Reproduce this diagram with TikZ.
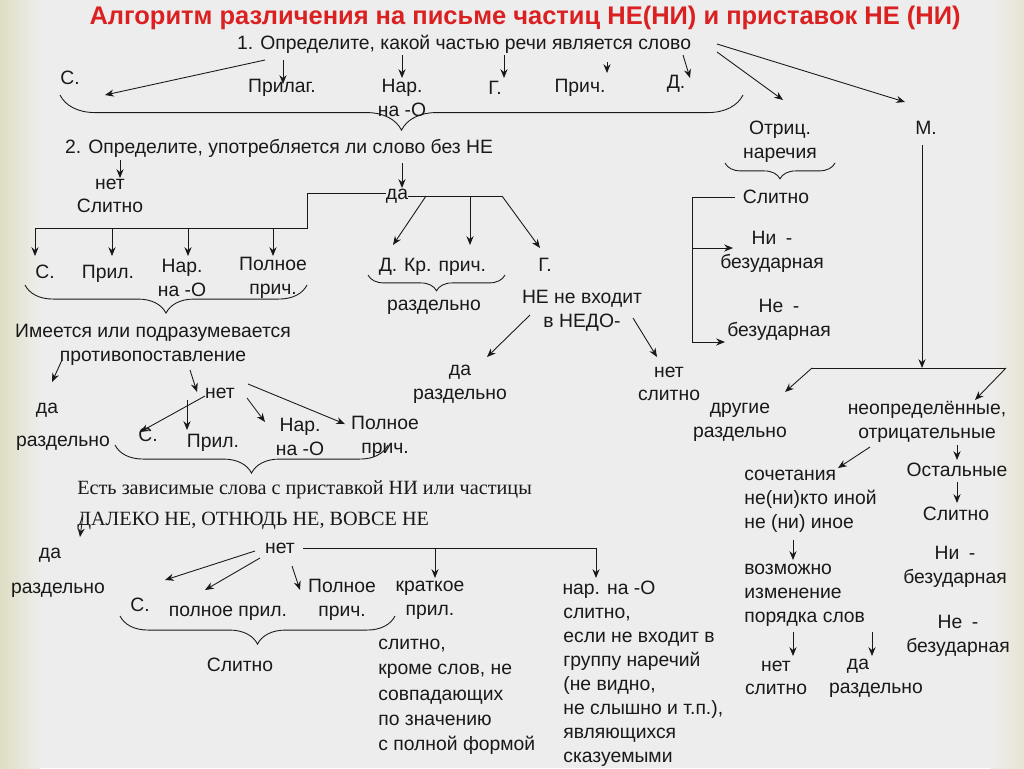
\documentclass[tikz,border=0pt]{standalone}
\usepackage{fontspec}
\setmainfont{Liberation Sans}
\newfontfamily\serifcyr{Liberation Serif}
\usetikzlibrary{arrows.meta,decorations.pathreplacing}
\definecolor{bgcol}{RGB}{238,237,237}
\definecolor{titlered}{RGB}{218,32,32}
\definecolor{txt}{RGB}{25,25,25}

\begin{document}
\begin{tikzpicture}[
    x=0.02cm, y=-0.02cm,
    >={Stealth[length=5pt,width=4pt]},
    lbl/.style={inner sep=0pt, text=txt, font=\fontsize{11}{13.5}\selectfont, align=center},
    lbll/.style={lbl, align=left, anchor=north west},
    arr/.style={->, draw=txt, line width=0.5pt},
    ln/.style={draw=txt, line width=0.5pt},
    brc/.style={draw=txt, line width=0.5pt, decorate,
        decoration={brace, mirror, amplitude=#1}},
    brc/.default=16pt
]
\useasboundingbox (0,0) rectangle (1024,768);
\fill[bgcol] (0,0) rectangle (1024,768);
\shade[left color={rgb,255:red,222;green,222;blue,196}, right color=bgcol] (0,0) rectangle (40,768);
\shade[left color=bgcol, right color={rgb,255:red,232;green,228;blue,212}] (990,0) rectangle (1024,768);

% title and step 1
\node[inner sep=0pt, text=titlered, font=\fontsize{14.5}{16}\selectfont\bfseries] (title) at (525,18)
    {Алгоритм различения на письме частиц НЕ(НИ) и приставок НЕ (НИ)};
\node[lbl] (q1) at (464,44) {1. Определите, какой частью речи является слово};
\node[lbl] (s1) at (70,78) {С.};
\node[lbl] (adj1) at (282,88) {Прилаг.};
\node[lbl] (adv1) at (402,98) {Нар.\\на -О};
\node[lbl] (g1) at (495,88) {Г.};
\node[lbl] (pr1) at (580,88) {Прич.};
\node[lbl] (d1) at (676,84) {Д.};
\node[lbl] (neg) at (780,142) {Отриц.\\наречия};
\node[lbl] (m) at (926,128) {М.};

\draw[arr] (265,60) -- (105,95);
\draw[arr] (283,60) -- (283,84);
\draw[arr] (402,55) -- (402,78);
\draw[arr] (504,55) -- (504,78);
\draw[arr] (607,62) -- (607,73);
\draw[arr] (683,55) -- (690,78);
\draw[arr] (717,52) -- (783,100);
\draw[arr] (717,44) -- (905,102);
\draw[brc=20pt] (60,95) -- (743,95);

% step 2
\node[lbl] (q2) at (279,148) {2. Определите, употребляется ли слово без НЕ};
\draw[arr] (120,160) -- (120,178);
\node[lbl] (no2) at (110,196) {нет\\Слитно};
\draw[arr] (402,163) -- (402,188);
\node[lbl] (yes2) at (397,196) {да};

\draw[ln] (yes2.west) ++(0,-3) -- (307,193) -- (307,228) -- (35,228);
\foreach \x in {35,112,188,273} \draw[arr] (\x,228) -- (\x,256);
\node[lbl] (s2) at (45,272) {С.};
\node[lbl] (adj2) at (108,274) {Прил.};
\node[lbl] (adv2) at (182,278) {Нар.\\на -О};
\node[lbl] (pp2) at (273,278) {Полное\\прич.};
\draw[brc] (25,285) -- (307,285);

\draw[ln] (yes2.east) -- (502,196);
\draw[arr] (426,196) -- (393,245);
\draw[arr] (470,196) -- (470,245);
\draw[arr] (502,196) -- (540,248);
\node[lbl] (d2) at (388,267) {Д.};
\node[lbl] (kp2) at (445,267) {Кр. прич.};
\node[lbl] (g2) at (545,265) {Г.};
\draw[brc=9pt] (368,275) -- (505,275);
\node[lbl] (sep2) at (434,307) {раздельно};

\node[lbl] (nedo) at (582,311) {НЕ не входит\\в НЕДО-};
\draw[arr] (530,315) -- (487,357);
\draw[arr] (633,318) -- (657,357);
\node[lbl] (nedoyes) at (460,384) {да\\раздельно};
\node[lbl] (nedono) at (669,384) {нет\\слитно};

% opposition
\node[lbl] (opp) at (153,345) {Имеется или подразумевается\\противопоставление};
\draw[arr] (62,360) -- (52,382);
\draw[arr] (190,370) -- (197,392);
\node[lbl] (oppyes) at (47,410) {да};
\node[lbl] (oppsep) at (63,443) {раздельно};
\node[lbl] (oppno) at (220,393) {нет};
\draw[arr] (205,396) -- (140,432);
\draw[arr] (187,400) -- (187,430);
\draw[arr] (247,398) -- (265,422);
\draw[arr] (248,384) -- (345,424);
\node[lbl] (s3) at (148,435) {С.};
\node[lbl] (adj3) at (213,443) {Прил.};
\node[lbl] (adv3) at (300,437) {Нар.\\на -О};
\node[lbl] (pp3) at (385,437) {Полное\\прич.};
\draw[brc] (115,445) -- (388,445);

% dependent words
\node[inner sep=0pt, text=txt, anchor=north west, align=left, font=\serifcyr\fontsize{11.5}{12}\selectfont] (dep) at (77,480)
    {Есть зависимые слова с приставкой НИ или частицы\\[6pt]ДАЛЕКО НЕ, ОТНЮДЬ НЕ, ВОВСЕ НЕ};
\draw[arr] (83,515) -- (80,537);
\node[lbl] (depyes) at (50,555) {да};
\node[lbl] (depsep) at (58,590) {раздельно};
\node[lbl] (depno) at (280,548) {нет};
\draw[ln] (depno.east) ++(8,0) -- (596,548);
\draw[arr] (435,548) -- (435,578);
\draw[arr] (596,548) -- (596,578);
\draw[arr] (255,551) -- (165,580);
\draw[arr] (260,558) -- (205,590);
\draw[arr] (292,566) -- (300,590);
\node[lbl] (s4) at (140,605) {С.};
\node[lbl] (adj4) at (228,613) {полное прил.};
\node[lbl] (pp4) at (342,600) {Полное\\прич.};
\node[lbl] (ka4) at (430,600) {краткое\\прил.};
\node[lbl] (adv4) at (609,590) {нар. на -О};
\draw[brc] (120,616) -- (395,616);
\node[lbl] (sl4) at (240,665) {Слитно};
\node[lbll, font=\fontsize{11}{14.3}\selectfont] (kr4) at (378,639)
    {слитно,\\кроме слов, не\\совпадающих\\по значению\\с полной формой};
\node[lbll, font=\fontsize{11}{13.6}\selectfont] (na4) at (563,608)
    {слитно,\\если не входит в\\группу наречий\\(не видно,\\не слышно и т.п.),\\являющихся\\сказуемыми};

% negative adverbs
\draw[brc=9pt] (725,163) -- (835,163);
\node[lbl] (sl5) at (776,197) {Слитно};
\draw[ln] (sl5.west) ++(-8,0) -- (692,197) -- (692,342);
\draw[arr] (692,248) -- (733,248);
\draw[arr] (692,342) -- (725,342);
\node[lbl] (ni5) at (772,252) {Ни\enspace -\\безударная};
\node[lbl] (ne5) at (779,320) {Не\enspace -\\безударная};

% pronouns
\draw[arr] (922,145) -- (922,368);
\draw[ln] (812,368) -- (1006,368);
\draw[arr] (812,368) -- (785,392);
\draw[arr] (1006,368) -- (975,400);
\node[lbl] (oth) at (740,422) {другие\\раздельно};
\node[lbl] (ind) at (927,422) {неопределённые,\\отрицательные};
\draw[arr] (870,447) -- (838,468);
\draw[arr] (957,445) -- (957,460);
\node[lbl] (rest) at (957,470) {Остальные};
\draw[arr] (957,482) -- (957,503);
\node[lbl] (sl6) at (956,514) {Слитно};
\node[lbl] (ni6) at (955,567) {Ни\enspace -\\безударная};
\node[lbl] (ne6) at (958,636) {Не\enspace -\\безударная};
\node[lbll] (comb) at (744,470) {сочетания\\не(ни)кто иной\\не (ни) иное};
\draw[arr] (793,540) -- (793,560);
\node[lbll] (ord) at (744,564) {возможно\\изменение\\порядка слов};
\draw[arr] (793,632) -- (793,656);
\draw[arr] (872,632) -- (872,656);
\node[lbl] (ordno) at (776,678) {нет\\слитно};
\node[lbl] (ordyes) at (858,666) {да};
\node[lbl] (ordsep) at (876,690) {раздельно};
\end{tikzpicture}
\end{document}
